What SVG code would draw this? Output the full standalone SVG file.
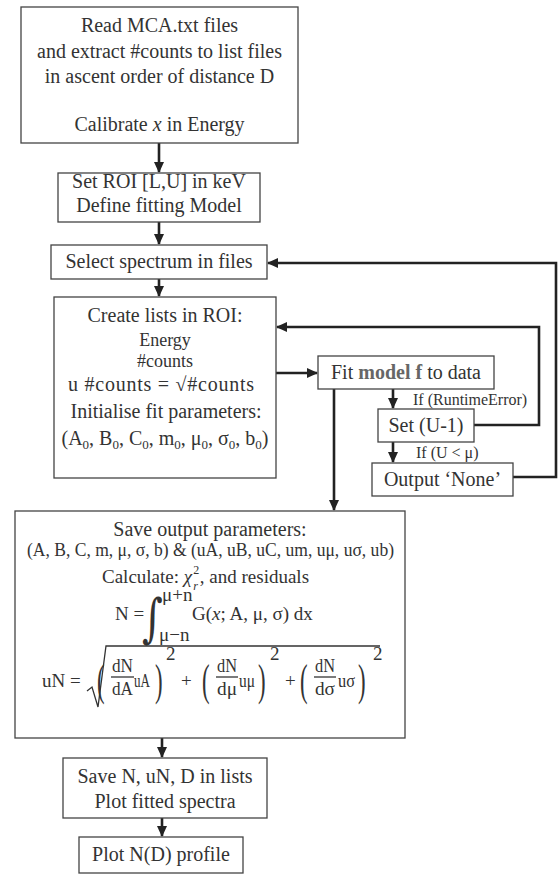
<svg xmlns="http://www.w3.org/2000/svg" width="558" height="874" viewBox="0 0 558 874">
<style>
.box{fill:#fff;stroke:#444;stroke-width:1.3}
.t{font-family:"Liberation Serif",serif;font-size:20px;fill:#333;text-anchor:middle}
.s{font-family:"Liberation Serif",serif;font-size:18px;fill:#333;text-anchor:middle}
.m{font-family:"Liberation Serif",serif;font-size:19px;fill:#333}
.lab{font-family:"Liberation Serif",serif;font-size:16px;fill:#333}
.c{fill:none;stroke:#222;stroke-width:2.6}
.thin{fill:none;stroke:#333;stroke-width:1.3}
</style>
<defs>
<marker id="ah" markerUnits="userSpaceOnUse" markerWidth="11" markerHeight="10" refX="10" refY="5" orient="auto">
<path d="M0,0 L11,5 L0,10 z" fill="#222"/>
</marker>
</defs>

<g id="connectors">
<path class="c" d="M159,143 V172" marker-end="url(#ah)"/>
<path class="c" d="M159,222 V244" marker-end="url(#ah)"/>
<path class="c" d="M159,279 V296" marker-end="url(#ah)"/>
<path class="c" d="M276,373 H317" marker-end="url(#ah)"/>
<path class="c" d="M393,389 V408" marker-end="url(#ah)"/>
<path class="c" d="M393,442 V462" marker-end="url(#ah)"/>
<path class="c" d="M474,425 H539 V327 H277" marker-end="url(#ah)"/>
<path class="c" d="M513,477 H556 V263 H268" marker-end="url(#ah)"/>
<path class="c" d="M334,389 V510" marker-end="url(#ah)"/>
<path class="c" d="M162,738 V757" marker-end="url(#ah)"/>
<path class="c" d="M162,818 V836" marker-end="url(#ah)"/>
</g>

<g id="read">
<rect class="box" x="21" y="7" width="277" height="136"/>
<text class="t" x="159.5" y="32">Read MCA.txt files</text>
<text class="t" x="159.5" y="57.5">and extract #counts to list files</text>
<text class="t" x="159.5" y="83">in ascent order of distance D</text>
<text class="t" x="159.5" y="131">Calibrate <tspan font-style="italic">x</tspan> in Energy</text>
</g>

<g id="roi">
<rect class="box" x="58" y="173" width="202" height="49"/>
<text class="t" x="159" y="188">Set ROI [L,U] in keV</text>
<text class="t" x="159" y="212">Define fitting Model</text>
</g>

<g id="select">
<rect class="box" x="51" y="245" width="216" height="34"/>
<text class="t" x="159" y="268">Select spectrum in files</text>
</g>

<g id="lists">
<rect class="box" x="54" y="297" width="222" height="181"/>
<text class="t" x="165" y="322">Create lists in ROI:</text>
<text class="s" x="165" y="346">Energy</text>
<text class="s" x="165" y="367">#counts</text>
<text class="t" x="161" y="391" textLength="186" lengthAdjust="spacing">u #counts = √#counts</text>
<text class="t" x="166" y="418">Initialise fit parameters:</text>
<text class="t" x="165" y="445" font-size="18.5">(A<tspan font-size="13" dy="4">0</tspan><tspan dy="-4">, B</tspan><tspan font-size="13" dy="4">0</tspan><tspan dy="-4">, C</tspan><tspan font-size="13" dy="4">0</tspan><tspan dy="-4">, m</tspan><tspan font-size="13" dy="4">0</tspan><tspan dy="-4">, μ</tspan><tspan font-size="13" dy="4">0</tspan><tspan dy="-4">, σ</tspan><tspan font-size="13" dy="4">0</tspan><tspan dy="-4">, b</tspan><tspan font-size="13" dy="4">0</tspan><tspan dy="-4">)</tspan></text>
</g>

<g id="fit">
<rect class="box" x="318" y="356" width="176" height="33"/>
<text class="t" x="406" y="379">Fit <tspan font-weight="bold" fill="#666">model f</tspan> to data</text>
</g>

<g id="labels">
<text class="lab" x="413" y="405">If (RuntimeError)</text>
<text class="lab" x="416" y="458">If (U &lt; μ)</text>
</g>

<g id="setu">
<rect class="box" x="378" y="409" width="96" height="33"/>
<text class="t" x="426" y="432">Set (U-1)</text>
</g>

<g id="none">
<rect class="box" x="372" y="463" width="141" height="33"/>
<text class="t" x="442.5" y="486">Output ‘None’</text>
</g>

<g id="save">
<rect class="box" x="15" y="511" width="390" height="227"/>
<text class="t" x="210" y="536">Save output parameters:</text>
<text class="m" x="27" y="556" font-size="18" textLength="367" lengthAdjust="spacingAndGlyphs">(A, B, C, m, μ, σ, b) &amp; (uA, uB, uC, um, uμ, uσ, ub)</text>
<text class="m" x="102" y="583">Calculate: <tspan font-style="italic">χ</tspan><tspan font-size="12" dx="1" dy="-9">2</tspan><tspan font-size="12" font-style="italic" dx="-6" dy="16">r</tspan><tspan dx="2" dy="-7">, and residuals</tspan></text>
<text class="m" x="115" y="620">N =</text>
<text transform="translate(142,636) scale(1,1.3)" font-family="DejaVu Serif, serif" font-size="40" fill="#333">∫</text>
<text class="m" x="162" y="601" font-size="13">μ+n</text>
<text class="m" x="159" y="641" font-size="13">μ−n</text>
<text class="m" x="192" y="620">G(<tspan font-style="italic">x</tspan>; A, μ, σ) dx</text>
<text class="m" x="42" y="687">uN =</text>
<path class="thin" d="M87,691 L92,687 L98,707 L106,646 H380"/>
<text class="m" transform="translate(97,695) scale(1.2,2.3)" font-size="20">(</text>
<text class="m" x="112" y="672" font-size="17" textLength="21" lengthAdjust="spacingAndGlyphs">dN</text>
<path class="thin" d="M111,677 H134"/>
<text class="m" x="112" y="695" font-size="17" textLength="21" lengthAdjust="spacingAndGlyphs">dA</text>
<text class="m" x="134" y="687" font-size="17" textLength="16" lengthAdjust="spacingAndGlyphs">uA</text>
<text class="m" transform="translate(155,695) scale(1.2,2.3)" font-size="20">)</text>
<text class="m" x="166" y="660" font-size="12">2</text>
<text class="m" x="181" y="687">+</text>
<text class="m" transform="translate(202,695) scale(1.2,2.3)" font-size="20">(</text>
<text class="m" x="217" y="672" font-size="17" textLength="20" lengthAdjust="spacingAndGlyphs">dN</text>
<path class="thin" d="M216,677 H238"/>
<text class="m" x="217" y="695" font-size="17" textLength="20" lengthAdjust="spacingAndGlyphs">dμ</text>
<text class="m" x="239" y="687" font-size="17" textLength="16" lengthAdjust="spacingAndGlyphs">uμ</text>
<text class="m" transform="translate(258,695) scale(1.2,2.3)" font-size="20">)</text>
<text class="m" x="270" y="660" font-size="12">2</text>
<text class="m" x="285" y="687">+</text>
<text class="m" transform="translate(300,695) scale(1.2,2.3)" font-size="20">(</text>
<text class="m" x="315" y="672" font-size="17" textLength="20" lengthAdjust="spacingAndGlyphs">dN</text>
<path class="thin" d="M314,677 H336"/>
<text class="m" x="315" y="695" font-size="17" textLength="20" lengthAdjust="spacingAndGlyphs">dσ</text>
<text class="m" x="338" y="687" font-size="17" textLength="17" lengthAdjust="spacingAndGlyphs">uσ</text>
<text class="m" transform="translate(358,695) scale(1.2,2.3)" font-size="20">)</text>
<text class="m" x="373" y="660" font-size="12">2</text>
</g>

<g id="savelists">
<rect class="box" x="63" y="758" width="204" height="60"/>
<text class="t" x="165" y="783">Save N, uN, D in lists</text>
<text class="t" x="165" y="808">Plot fitted spectra</text>
</g>

<g id="plot">
<rect class="box" x="79" y="837" width="164" height="36"/>
<text class="t" x="161" y="861">Plot N(D) profile</text>
</g>
</svg>
